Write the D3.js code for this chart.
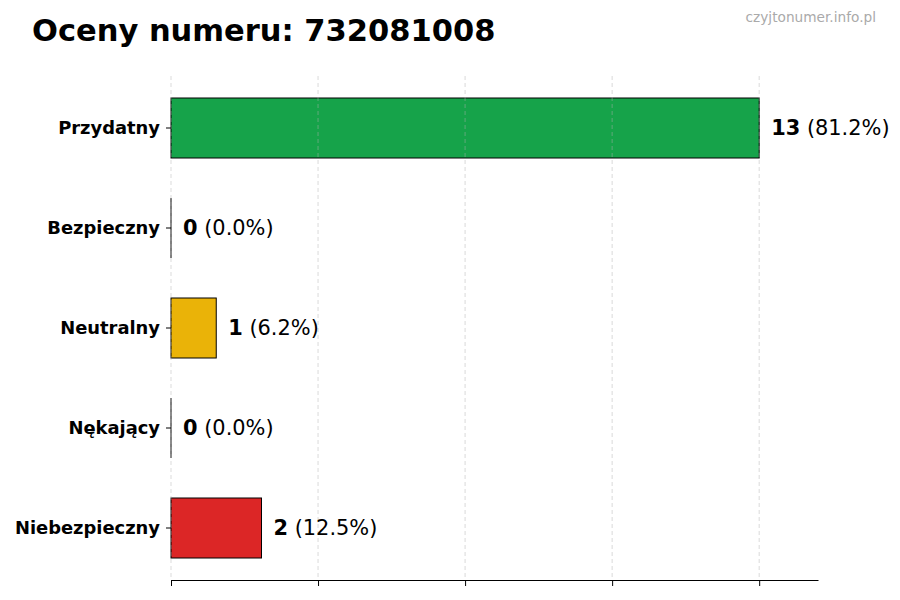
<!DOCTYPE html>
<html><head><meta charset="utf-8">
<script src="https://cdn.jsdelivr.net/npm/d3@7"></script>
<style>body{margin:0;background:#fff}svg{display:block}text{font-family:"DejaVu Sans",sans-serif}</style>
</head><body><svg id="c" width="900" height="600"></svg>
<script>
const categories = ["Przydatny","Bezpieczny","Neutralny","Nękający","Niebezpieczny"];
const counts = [13,0,1,0,2];
const percents = ["81.2%","0.0%","6.2%","0.0%","12.5%"];
const colors = ["#16a34a","#2563eb","#eab308","#f97316","#dc2626"];
const xTicks = [0,3.25,6.5,9.75,13];

const svg = d3.select("#c");
const x = d3.scaleLinear().domain([0, 14.3]).range([171, 818]);
const y = d3.scaleBand().domain(categories).range([78, 578]).paddingInner(0.4).paddingOuter(0.2);

svg.append("text").attr("x",32).attr("y",41).attr("font-size",30.5).attr("font-weight","bold").text("Oceny numeru: 732081008");
svg.append("text").attr("x",876).attr("y",22).attr("text-anchor","end").attr("font-size",13.7).attr("fill","#aaaaaa").text("czyjtonumer.info.pl");

// bars
svg.selectAll("rect.bar").data(categories).join("rect")
  .attr("x", x(0)).attr("y", d=>y(d))
  .attr("width", (d,i)=>x(counts[i])-x(0)).attr("height", y.bandwidth())
  .attr("fill",(d,i)=>colors[i]).attr("stroke","#000").attr("stroke-width",1);
// zero-width bars still show their edge
svg.selectAll("line.zero").data(categories.filter((d,i)=>counts[i]===0)).join("line")
  .attr("x1",x(0)).attr("x2",x(0)).attr("y1",d=>y(d)).attr("y2",d=>y(d)+y.bandwidth())
  .attr("stroke","#000").attr("stroke-width",1);

// grid on top, faint
svg.selectAll("line.grid").data(xTicks).join("line")
  .attr("x1",d=>x(d)).attr("x2",d=>x(d)).attr("y1",76).attr("y2",580)
  .attr("stroke","#b0b0b0").attr("stroke-opacity",0.6).attr("stroke-dasharray","4,3").attr("stroke-width",0.8);

// bottom axis
const xa = svg.append("g").attr("transform","translate(0,580)")
  .call(d3.axisBottom(x).tickValues(xTicks).tickFormat("").tickSize(6).tickSizeOuter(0));
xa.select(".domain").attr("stroke","#000");
xa.selectAll(".tick line").attr("stroke","#000");

// left axis ticks and labels
const ya = svg.append("g").attr("transform","translate(171,0)")
  .call(d3.axisLeft(y).tickSize(5).tickPadding(6));
ya.select(".domain").remove();
ya.selectAll(".tick line").attr("stroke","#000");
ya.selectAll(".tick text").attr("font-size",17.9).attr("font-weight","bold").attr("fill","#000")
  .attr("font-family","DejaVu Sans, sans-serif");

// value labels
const vl = svg.selectAll("text.val").data(categories).join("text")
  .attr("x",(d,i)=>x(counts[i])+12).attr("y",d=>y(d)+y.bandwidth()/2).attr("dy","0.35em")
  .attr("font-size",20.9);
vl.append("tspan").attr("font-weight","bold").text((d,i)=>counts[i]);
vl.append("tspan").text((d,i)=>" ("+percents[i]+")");
</script></body></html>
